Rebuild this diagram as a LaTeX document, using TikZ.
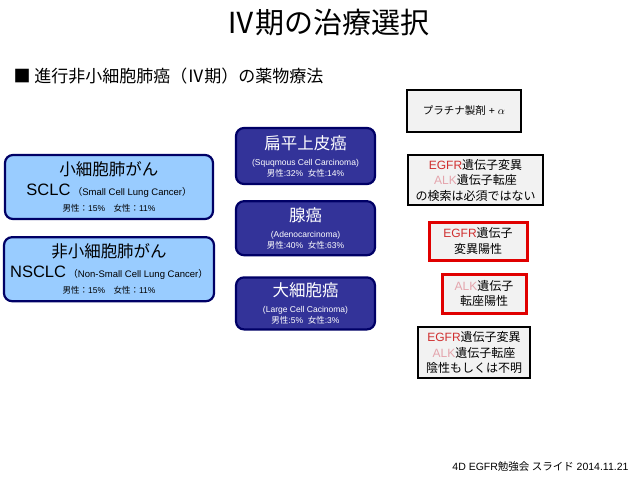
\documentclass[tikz,border=0pt]{standalone}
\usepackage{fontspec}
\setmainfont{Liberation Sans}
\newfontfamily\jpfont{Noto Sans CJK JP}
\newcommand{\jp}[1]{{\jpfont #1}}
\newcommand{\bigname}[1]{{\fontsize{16.5}{16}\selectfont #1}}
\newcommand{\engname}[1]{{\fontsize{9.5}{16}\selectfont #1}}
\usepackage{tikz}
\usetikzlibrary{positioning}
\definecolor{typefill}{HTML}{99CCFF}
\definecolor{typeline}{HTML}{000066}
\definecolor{histfill}{HTML}{333399}
\definecolor{histline}{HTML}{000066}
\definecolor{testfill}{HTML}{F2F2F2}
\definecolor{hitred}{HTML}{E00000}
\definecolor{egfrred}{HTML}{D03030}
\definecolor{alkpink}{HTML}{E4A4AC}

\begin{document}
\begin{tikzpicture}[x=1pt, y=-1pt,
        node distance=16pt,
        typebox/.style={rectangle, rounded corners=8pt, draw=typeline, line width=2.2pt, fill=typefill, align=center, inner sep=0pt, minimum width=208pt, minimum height=64pt, font=\fontsize{8.5}{16}\selectfont},
        histbox/.style={rectangle, rounded corners=8pt, draw=histline, line width=2.2pt, fill=histfill, text=white, align=center, inner sep=0pt, minimum width=139pt, font=\fontsize{8.5}{11}\selectfont},
        testbox/.style={rectangle, draw=black, line width=1.2pt, fill=testfill, align=center, inner sep=0pt, font=\fontsize{12}{15.5}\selectfont},
        hitbox/.style={testbox, draw=hitred, line width=3pt},
    ]
        \useasboundingbox (0,0) rectangle (638,479);
        \node[font=\fontsize{29}{29}\selectfont] (title) at (328,23) {\jp{Ⅳ期の治療選択}};
        \node[anchor=west, font=\fontsize{17}{17}\selectfont] (subtitle) at (10,76) {\jp{■ 進行非小細胞肺癌（Ⅳ期）の薬物療法}};

        % cell types
        \node[typebox] (sclc) at (109,187) {\jp{\bigname{小細胞肺がん}}\\[4pt]\bigname{SCLC}\ \engname{\jp{（}Small Cell Lung Cancer\jp{）}}\\ \jp{男性：}15\%\jp{　女性：}11\%};
        \node[typebox, minimum width=210pt, below=16pt of sclc] (nsclc) {\jp{\bigname{非小細胞肺がん}}\\[4pt]\bigname{NSCLC}\ \engname{\jp{（}Non-Small Cell Lung Cancer\jp{）}}\\ \jp{男性：}15\%\jp{　女性：}11\%};

        % histology
        \node[histbox, minimum height=56pt] (squamous) at (305.5,156) {\jp{\bigname{扁平上皮癌}}\\[5pt](Squqmous Cell Carcinoma)\\ \jp{男性}:32\%\ \ \jp{女性}:14\%};
        \node[histbox, minimum height=54pt, below=15pt of squamous] (adeno) {\jp{\bigname{腺癌}}\\[5pt](Adenocarcinoma)\\ \jp{男性}:40\%\ \ \jp{女性}:63\%};
        \node[histbox, minimum height=52pt, below=20pt of adeno] (large) {\jp{\bigname{大細胞癌}}\\[5pt](Large Cell Cacinoma)\\ \jp{男性}:5\%\ \ \jp{女性}:3\%};

        % treatment / gene tests
        \node[testbox, minimum width=114pt, minimum height=42pt, font=\fontsize{10.5}{12}\selectfont] (platinum) at (464,111) {\jp{プラチナ製剤} + $\alpha$};
        \node[testbox, minimum width=135pt, minimum height=50pt] (notest) at (475.5,180) {\textcolor{egfrred}{EGFR}\jp{遺伝子変異}\\ \textcolor{alkpink}{ALK}\jp{遺伝子転座}\\ \jp{の検索は必須ではない}};
        \node[hitbox, minimum width=98pt, minimum height=38pt] (egfrpos) at (478,241) {\textcolor{egfrred}{EGFR}\jp{遺伝子}\\ \jp{変異陽性}};
        \node[hitbox, minimum width=84pt, minimum height=39pt] (alkpos) at (484,293.5) {\textcolor{alkpink}{ALK}\jp{遺伝子}\\ \jp{転座陽性}};
        \node[testbox, minimum width=112pt, minimum height=51pt] (negative) at (474,352.5) {\textcolor{egfrred}{EGFR}\jp{遺伝子変異}\\ \textcolor{alkpink}{ALK}\jp{遺伝子転座}\\ \jp{陰性もしくは不明}};

        \node[anchor=east, font=\fontsize{10.5}{10}\selectfont] (footer) at (632,467) {4D EGFR\jp{勉強会 スライド} 2014.11.21};
    \end{tikzpicture}
\end{document}
